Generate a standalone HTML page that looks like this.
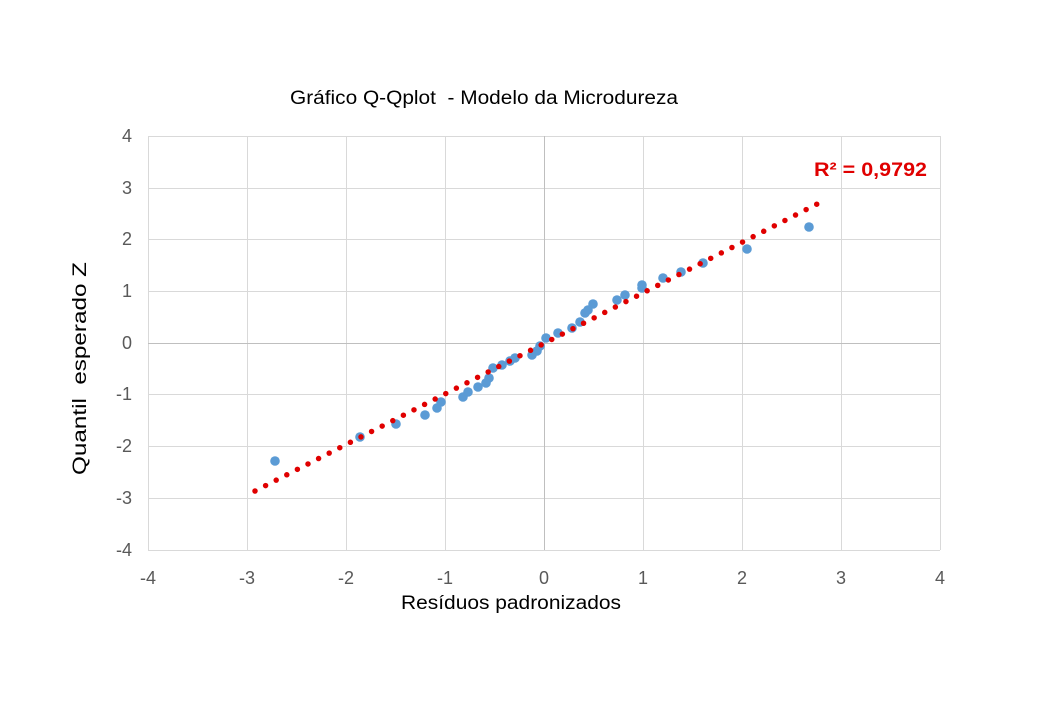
<!DOCTYPE html>
<html><head><meta charset="utf-8"><style>body{margin:0;background:#fff}svg{display:block}</style></head><body>
<svg width="1040" height="720" xmlns="http://www.w3.org/2000/svg" font-family="Liberation Sans, sans-serif">
<rect width="1040" height="720" fill="#fff"/>
<g stroke="#d9d9d9" stroke-width="1">
<line x1="148" y1="136.5" x2="940" y2="136.5"/><line x1="148" y1="188.5" x2="940" y2="188.5"/><line x1="148" y1="239.5" x2="940" y2="239.5"/><line x1="148" y1="291.5" x2="940" y2="291.5"/><line x1="148" y1="394.5" x2="940" y2="394.5"/><line x1="148" y1="446.5" x2="940" y2="446.5"/><line x1="148" y1="498.5" x2="940" y2="498.5"/><line x1="148" y1="550.5" x2="940" y2="550.5"/>
<line x1="148.5" y1="136" x2="148.5" y2="550"/><line x1="247.5" y1="136" x2="247.5" y2="550"/><line x1="346.5" y1="136" x2="346.5" y2="550"/><line x1="445.5" y1="136" x2="445.5" y2="550"/><line x1="643.5" y1="136" x2="643.5" y2="550"/><line x1="742.5" y1="136" x2="742.5" y2="550"/><line x1="841.5" y1="136" x2="841.5" y2="550"/><line x1="940.5" y1="136" x2="940.5" y2="550"/>
</g>
<g stroke="#bfbfbf"><line x1="148" y1="343.5" x2="940" y2="343.5"/><line x1="544.5" y1="136" x2="544.5" y2="550"/></g>
<g fill="#5b9bd5">
<circle cx="275" cy="461" r="4.8"/><circle cx="360" cy="437" r="4.8"/><circle cx="396" cy="424" r="4.8"/><circle cx="425" cy="415" r="4.8"/><circle cx="437" cy="408" r="4.8"/><circle cx="441" cy="402" r="4.8"/><circle cx="463" cy="397" r="4.8"/><circle cx="468" cy="392" r="4.8"/><circle cx="478" cy="387" r="4.8"/><circle cx="486" cy="383" r="4.8"/><circle cx="489" cy="378" r="4.8"/><circle cx="493" cy="368" r="4.8"/><circle cx="502" cy="365" r="4.8"/><circle cx="510" cy="361" r="4.8"/><circle cx="515" cy="358" r="4.8"/><circle cx="532" cy="355" r="4.8"/><circle cx="537" cy="351" r="4.8"/><circle cx="540" cy="346" r="4.8"/><circle cx="546" cy="338" r="4.8"/><circle cx="558" cy="333" r="4.8"/><circle cx="572" cy="328" r="4.8"/><circle cx="580" cy="322" r="4.8"/><circle cx="585" cy="313" r="4.8"/><circle cx="588" cy="310" r="4.8"/><circle cx="593" cy="304" r="4.8"/><circle cx="617" cy="300" r="4.8"/><circle cx="625" cy="295" r="4.8"/><circle cx="642" cy="288" r="4.8"/><circle cx="642" cy="285" r="4.8"/><circle cx="663" cy="278" r="4.8"/><circle cx="681" cy="272" r="4.8"/><circle cx="703" cy="263" r="4.8"/><circle cx="747" cy="249" r="4.8"/><circle cx="809" cy="227" r="4.8"/>
</g>
<line x1="255" y1="491" x2="823" y2="201" stroke="#e00000" stroke-width="5.5" stroke-linecap="round" stroke-dasharray="0 11.9"/>
<text x="814" y="176" font-size="19" font-weight="bold" fill="#e00000" textLength="113" lengthAdjust="spacingAndGlyphs">R² = 0,9792</text>
<g font-size="18" fill="#595959" text-anchor="end">
<text x="132" y="142">4</text><text x="132" y="194">3</text><text x="132" y="245">2</text><text x="132" y="297">1</text><text x="132" y="349">0</text><text x="132" y="400">-1</text><text x="132" y="452">-2</text><text x="132" y="504">-3</text><text x="132" y="556">-4</text>
</g>
<g font-size="18" fill="#595959" text-anchor="middle">
<text x="148" y="584">-4</text><text x="247" y="584">-3</text><text x="346" y="584">-2</text><text x="445" y="584">-1</text><text x="544" y="584">0</text><text x="643" y="584">1</text><text x="742" y="584">2</text><text x="841" y="584">3</text><text x="940" y="584">4</text>
</g>
<text x="290" y="104" font-size="19" fill="#000" textLength="388" lengthAdjust="spacingAndGlyphs" xml:space="preserve">Gráfico Q-Qplot  - Modelo da Microdureza</text>
<text x="401" y="609" font-size="19" fill="#000" textLength="220" lengthAdjust="spacingAndGlyphs">Resíduos padronizados</text>
<text transform="translate(86,475) rotate(-90)" font-size="19" fill="#000" textLength="213" lengthAdjust="spacingAndGlyphs" xml:space="preserve">Quantil  esperado Z</text>
</svg>
</body></html>
